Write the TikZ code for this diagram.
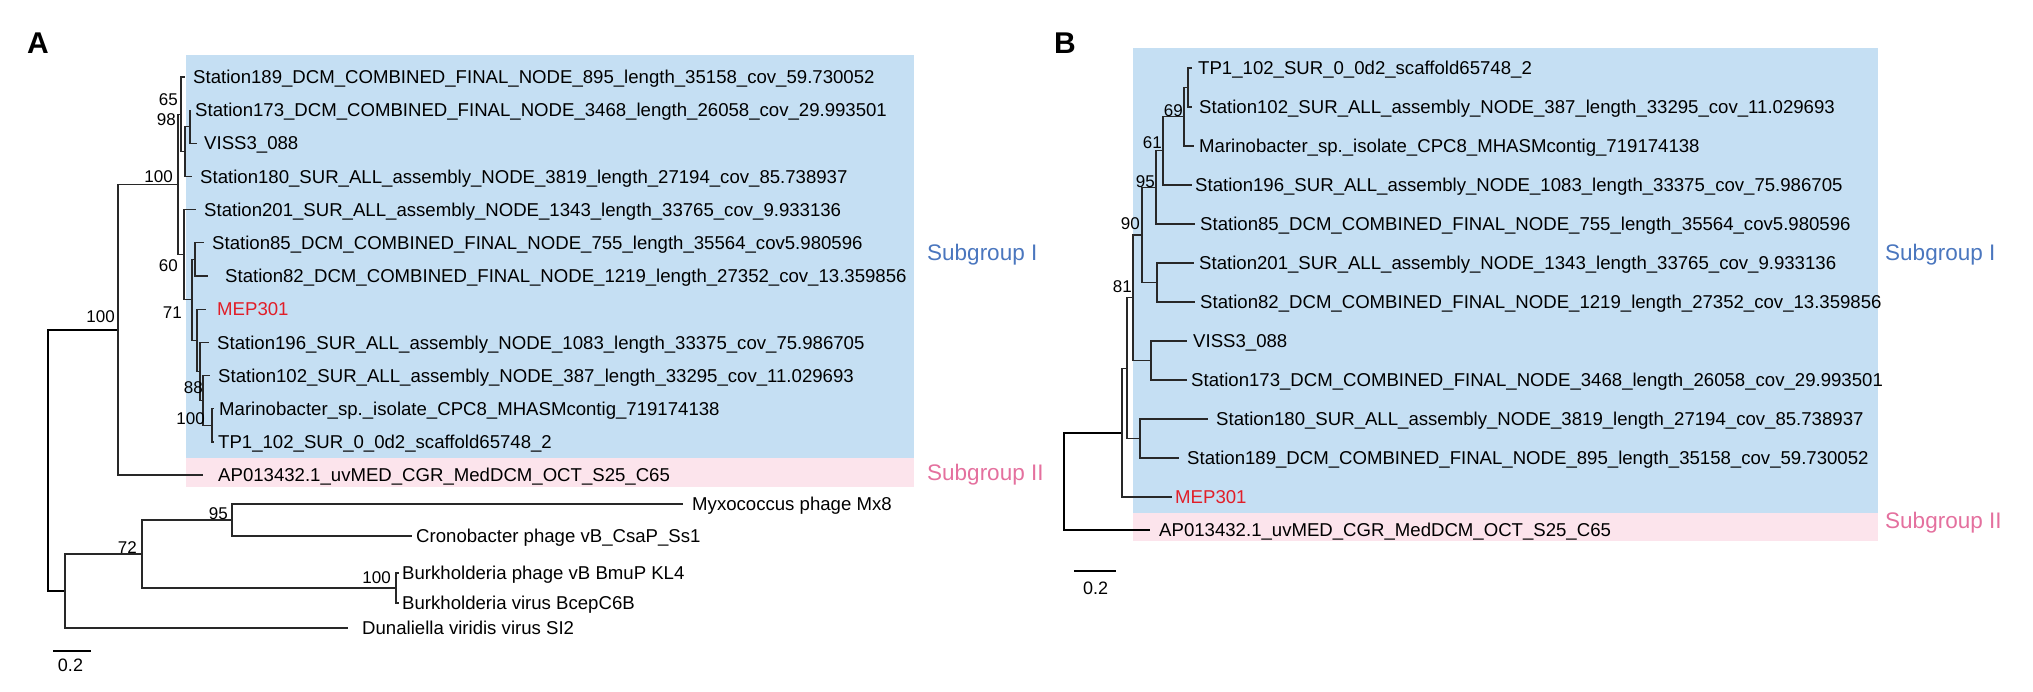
\documentclass[tikz,border=0pt]{standalone}
\usepackage{fontspec}
\setmainfont{Liberation Sans}
\definecolor{bluebg}{RGB}{197,223,243}
\definecolor{pinkbg}{RGB}{252,228,236}
\definecolor{sgone}{RGB}{74,118,190}
\definecolor{sgtwo}{RGB}{228,112,158}
\definecolor{mepred}{RGB}{225,30,40}
\definecolor{branch}{RGB}{40,40,40}
\begin{document}
\begin{tikzpicture}[x=1pt,y=-1pt,
  br/.style={draw=branch,line width=1.2pt},
  rootbr/.style={draw=black,line width=2.2pt},
  tip/.style={anchor=base west,inner sep=0pt,font=\fontsize{18.6}{22}\selectfont},
  boot/.style={anchor=east,inner sep=0pt,font=\fontsize{17}{20}\selectfont},
  subg/.style={anchor=base west,inner sep=0pt,font=\fontsize{22.5}{26}\selectfont},
  panel/.style={anchor=base west,inner sep=0pt,font=\fontsize{30}{34}\selectfont\bfseries},
  sbar/.style={draw=black,line width=2.4pt},
  sblab/.style={anchor=center,inner sep=0pt,font=\fontsize{18}{21}\selectfont}]
\useasboundingbox (0,0) rectangle (2033,692);
% ---------------- backgrounds
\fill[bluebg] (186,55) rectangle (914,458);
\fill[pinkbg] (186,458) rectangle (914,487);
\fill[bluebg] (1133,48) rectangle (1878,513);
\fill[pinkbg] (1133,513) rectangle (1878,541);
% ---------------- panel letters
\node[panel] (LA) at (27,54) {A};
\node[panel] (LB) at (1054,54) {B};
% ================= PANEL A
\coordinate (ARoot) at (48,460.4);
\coordinate (AN0) at (118,329.8);
\coordinate (AN1) at (178,184.6);
\coordinate (ANa) at (181,114.3);
\coordinate (ANc) at (185,151.6);
\coordinate (ANd) at (190,126.8);
\coordinate (ANb) at (184,254.8);
\coordinate (ANe) at (192,299.9);
\coordinate (ANf) at (195,259.5);
\coordinate (ANg) at (197,340.3);
\coordinate (ANh) at (200,371.4);
\coordinate (ANi) at (203,400.4);
\coordinate (ANj) at (212,425.3);
\coordinate (AO1) at (65,591);
\coordinate (AO2) at (142,554);
\coordinate (AO3) at (232,520);
\coordinate (AOB) at (396,588);
\coordinate (A189e) at (185,77);
\coordinate (A173e) at (191,110.2);
\coordinate (AVISe) at (197,143.3);
\coordinate (A180e) at (192,176.5);
\coordinate (A201e) at (196,209.7);
\coordinate (A85e) at (204,242.9);
\coordinate (A82e) at (208,276);
\coordinate (AMEPe) at (206,309.2);
\coordinate (A196e) at (209,342.4);
\coordinate (A102e) at (210,375.5);
\coordinate (AMare) at (214,408.7);
\coordinate (ATPe) at (214,441.9);
\coordinate (AAPe) at (203,475);
\coordinate (AMyxe) at (683,504);
\coordinate (ACroe) at (412,536);
\coordinate (ABPe) at (399,573);
\coordinate (ABVe) at (399,603);
\coordinate (ADune) at (348,628);
\node[tip] (At189) at (193,83.7) {Station189\_DCM\_COMBINED\_FINAL\_NODE\_895\_length\_35158\_cov\_59.730052};
\node[tip] (At173) at (195,116.9) {Station173\_DCM\_COMBINED\_FINAL\_NODE\_3468\_length\_26058\_cov\_29.993501};
\node[tip] (AtVIS) at (204,150.0) {VISS3\_088};
\node[tip] (At180) at (200,183.2) {Station180\_SUR\_ALL\_assembly\_NODE\_3819\_length\_27194\_cov\_85.738937};
\node[tip] (At201) at (204,216.4) {Station201\_SUR\_ALL\_assembly\_NODE\_1343\_length\_33765\_cov\_9.933136};
\node[tip] (At85) at (212,249.6) {Station85\_DCM\_COMBINED\_FINAL\_NODE\_755\_length\_35564\_cov5.980596};
\node[tip] (At82) at (225,282.7) {Station82\_DCM\_COMBINED\_FINAL\_NODE\_1219\_length\_27352\_cov\_13.359856};
\node[tip,text=mepred] (AtMEP) at (217,315.9) {MEP301};
\node[tip] (At196) at (217,349.1) {Station196\_SUR\_ALL\_assembly\_NODE\_1083\_length\_33375\_cov\_75.986705};
\node[tip] (At102) at (218,382.2) {Station102\_SUR\_ALL\_assembly\_NODE\_387\_length\_33295\_cov\_11.029693};
\node[tip] (AtMar) at (219,415.4) {Marinobacter\_sp.\_isolate\_CPC8\_MHASMcontig\_719174138};
\node[tip] (AtTP) at (218,448.6) {TP1\_102\_SUR\_0\_0d2\_scaffold65748\_2};
\node[tip] (AtAP) at (218,481.7) {AP013432.1\_uvMED\_CGR\_MedDCM\_OCT\_S25\_C65};
\node[tip] (AtMyx) at (692,510.7) {Myxococcus phage Mx8};
\node[tip] (AtCro) at (416,542.7) {Cronobacter phage vB\_CsaP\_Ss1};
\node[tip] (AtBP) at (402,579.7) {Burkholderia phage vB BmuP KL4};
\node[tip] (AtBV) at (402,609.7) {Burkholderia virus BcepC6B};
\node[tip] (AtDun) at (362,634.7) {Dunaliella viridis virus SI2};
\draw[rootbr] (ARoot) |- (AN0);
\draw[rootbr] (ARoot) |- (AO1);
\draw[br] (AN0) |- (AN1);
\draw[br] (AN0) |- (AAPe);
\draw[br] (AN1) |- (ANa);
\draw[br] (AN1) |- (ANb);
\draw[br] (ANa) |- (A189e);
\draw[br] (ANa) |- (ANc);
\draw[br] (ANc) |- (ANd);
\draw[br] (ANc) |- (A180e);
\draw[br] (ANd) |- (A173e);
\draw[br] (ANd) |- (AVISe);
\draw[br] (ANb) |- (A201e);
\draw[br] (ANb) |- (ANe);
\draw[br] (ANe) |- (ANf);
\draw[br] (ANe) |- (ANg);
\draw[br] (ANf) |- (A85e);
\draw[br] (ANf) |- (A82e);
\draw[br] (ANg) |- (AMEPe);
\draw[br] (ANg) |- (ANh);
\draw[br] (ANh) |- (A196e);
\draw[br] (ANh) |- (ANi);
\draw[br] (ANi) |- (A102e);
\draw[br] (ANi) |- (ANj);
\draw[br] (ANj) |- (AMare);
\draw[br] (ANj) |- (ATPe);
\draw[br] (AO1) |- (AO2);
\draw[br] (AO1) |- (ADune);
\draw[br] (AO2) |- (AO3);
\draw[br] (AO2) |- (AOB);
\draw[br] (AO3) |- (AMyxe);
\draw[br] (AO3) |- (ACroe);
\draw[br] (AOB) |- (ABPe);
\draw[br] (AOB) |- (ABVe);
\node[boot] (Ab1) at (115,316.5) {100};
\node[boot] (Ab2) at (173,177) {100};
\node[boot] (Ab3) at (178,100) {65};
\node[boot] (Ab4) at (176,120) {98};
\node[boot] (Ab5) at (178,266) {60};
\node[boot] (Ab6) at (182,313) {71};
\node[boot] (Ab7) at (203,388) {88};
\node[boot] (Ab8) at (205,419) {100};
\node[boot] (Ab9) at (137,548) {72};
\node[boot] (Ab10) at (228,514) {95};
\node[boot] (Ab11) at (391,578) {100};
\node[subg,text=sgone] (ASg1) at (927,261) {Subgroup I};
\node[subg,text=sgtwo] (ASg2) at (927,480) {Subgroup II};
\coordinate (ASb1) at (53,651);
\coordinate (ASb2) at (91,651);
\draw[sbar] (ASb1) -- (ASb2);
\node[sblab] (ASbl) at (70.5,665) {0.2};
% ================= PANEL B
\coordinate (BRoot) at (1064,481.3);
\coordinate (BP11) at (1122,432.6);
\coordinate (BP10) at (1127,368.1);
\coordinate (BP9) at (1140,438.5);
\coordinate (BP8) at (1133,297.7);
\coordinate (BP7) at (1151,360.5);
\coordinate (BP6) at (1142,235);
\coordinate (BP5) at (1157,282.5);
\coordinate (BP4) at (1156,187.4);
\coordinate (BP3) at (1163,150.9);
\coordinate (BP2) at (1184,116.75);
\coordinate (BP1) at (1188,87.5);
\coordinate (BTPe) at (1192,68);
\coordinate (B102e) at (1192,107);
\coordinate (BMare) at (1194,146);
\coordinate (B196e) at (1192,185);
\coordinate (B85e) at (1195,224);
\coordinate (B201e) at (1194,263);
\coordinate (B82e) at (1195,302);
\coordinate (BVISe) at (1187,341);
\coordinate (B173e) at (1187,380);
\coordinate (B180e) at (1208,419);
\coordinate (B189e) at (1179,458);
\coordinate (BMEPe) at (1172,497);
\coordinate (BAPe) at (1150,530);
\node[tip] (BtTP) at (1198,74.7) {TP1\_102\_SUR\_0\_0d2\_scaffold65748\_2};
\node[tip] (Bt102) at (1199,113.7) {Station102\_SUR\_ALL\_assembly\_NODE\_387\_length\_33295\_cov\_11.029693};
\node[tip] (BtMar) at (1199,152.7) {Marinobacter\_sp.\_isolate\_CPC8\_MHASMcontig\_719174138};
\node[tip] (Bt196) at (1195,191.7) {Station196\_SUR\_ALL\_assembly\_NODE\_1083\_length\_33375\_cov\_75.986705};
\node[tip] (Bt85) at (1200,230.7) {Station85\_DCM\_COMBINED\_FINAL\_NODE\_755\_length\_35564\_cov5.980596};
\node[tip] (Bt201) at (1199,269.7) {Station201\_SUR\_ALL\_assembly\_NODE\_1343\_length\_33765\_cov\_9.933136};
\node[tip] (Bt82) at (1200,308.7) {Station82\_DCM\_COMBINED\_FINAL\_NODE\_1219\_length\_27352\_cov\_13.359856};
\node[tip] (BtVIS) at (1193,347.7) {VISS3\_088};
\node[tip] (Bt173) at (1191,386.7) {Station173\_DCM\_COMBINED\_FINAL\_NODE\_3468\_length\_26058\_cov\_29.993501};
\node[tip] (Bt180) at (1216,425.7) {Station180\_SUR\_ALL\_assembly\_NODE\_3819\_length\_27194\_cov\_85.738937};
\node[tip] (Bt189) at (1187,464.7) {Station189\_DCM\_COMBINED\_FINAL\_NODE\_895\_length\_35158\_cov\_59.730052};
\node[tip,text=mepred] (BtMEP) at (1175,503.7) {MEP301};
\node[tip] (BtAP) at (1159,536.7) {AP013432.1\_uvMED\_CGR\_MedDCM\_OCT\_S25\_C65};
\draw[rootbr] (BRoot) |- (BP11);
\draw[rootbr] (BRoot) |- (BAPe);
\draw[br] (BP11) |- (BP10);
\draw[br] (BP11) |- (BMEPe);
\draw[br] (BP10) |- (BP8);
\draw[br] (BP10) |- (BP9);
\draw[br] (BP8) |- (BP6);
\draw[br] (BP8) |- (BP7);
\draw[br] (BP6) |- (BP4);
\draw[br] (BP6) |- (BP5);
\draw[br] (BP4) |- (BP3);
\draw[br] (BP4) |- (B85e);
\draw[br] (BP3) |- (BP2);
\draw[br] (BP3) |- (B196e);
\draw[br] (BP2) |- (BP1);
\draw[br] (BP2) |- (BMare);
\draw[br] (BP1) |- (BTPe);
\draw[br] (BP1) |- (B102e);
\draw[br] (BP5) |- (B201e);
\draw[br] (BP5) |- (B82e);
\draw[br] (BP7) |- (BVISe);
\draw[br] (BP7) |- (B173e);
\draw[br] (BP9) |- (B180e);
\draw[br] (BP9) |- (B189e);
\node[boot] (Bb1) at (1183,111) {69};
\node[boot] (Bb2) at (1162,142.5) {61};
\node[boot] (Bb3) at (1155,182) {95};
\node[boot] (Bb4) at (1140,224) {90};
\node[boot] (Bb5) at (1132,286.5) {81};
\node[subg,text=sgone] (BSg1) at (1885,261) {Subgroup I};
\node[subg,text=sgtwo] (BSg2) at (1885,528) {Subgroup II};
\coordinate (BSb1) at (1074,571);
\coordinate (BSb2) at (1116,571);
\draw[sbar] (BSb1) -- (BSb2);
\node[sblab] (BSbl) at (1095.5,588) {0.2};
\end{tikzpicture}
\end{document}
